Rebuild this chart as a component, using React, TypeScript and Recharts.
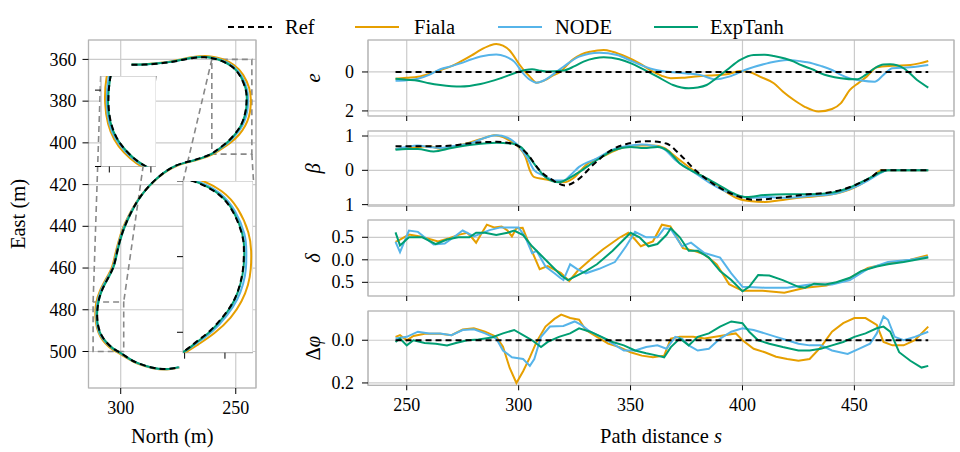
import {
  LineChart,
  Line,
  XAxis,
  YAxis,
  CartesianGrid,
  ReferenceArea,
  ReferenceLine,
} from 'recharts';

const SERIF = '"Liberation Serif", "DejaVu Serif", serif';
const FIALA = '#e69f00';
const NODE = '#56b4e9';
const EXPT = '#009e73';
const GRID = '#cbcbcb';
const SPINE = '#b4b4b4';

// trajectories, [north, east]
const REF_TRAJ: [number, number][] = [
  [295.3, 362.6], [290, 362.5], [284.5, 362.1], [279, 361.4], [274, 360.4], [268.5, 359.3], [263.5, 359.0],
  [260.4, 359.4], [256.5, 360.6], [251.5, 363.6], [248.0, 368.2], [245.8, 374.0], [245.3, 378.5], [245.5, 383.0],
  [246.2, 387.0], [247.6, 391.2], [250.0, 395.2], [253.5, 399.4], [257.2, 402.6], [260.5, 405.2], [265.0, 407.2],
  [270.0, 408.8], [275.8, 410.8], [281.5, 414.5], [287.5, 420.5], [292.5, 427.5], [296.0, 434.5], [298.6, 441.0],
  [300.5, 447.5], [301.8, 453.5], [303.2, 459.5], [305.6, 465.0], [308.2, 470.8], [309.8, 477.0], [310.2, 483.4],
  [309.6, 488.5], [308.2, 492.5], [306.0, 495.8], [303.2, 498.6], [300.2, 500.6], [296.5, 503.3], [292.5, 505.6],
  [286.0, 507.8], [280.0, 508.4], [274.5, 507.6],
];
const FIALA_TRAJ: [number, number][] = [
  [295.3, 362.6], [290, 362.4], [284.5, 361.9], [279, 361.1], [274, 360.0], [268.5, 358.8], [263.5, 358.4],
  [260.2, 358.7], [256.0, 359.8], [250.8, 362.7], [246.8, 367.4], [244.2, 373.6], [243.5, 378.5], [243.6, 383.2],
  [244.3, 387.5], [245.9, 391.8], [248.6, 396.1], [252.6, 400.2], [256.6, 403.2], [260.3, 405.6], [265.0, 407.5],
  [270.0, 409.1], [275.8, 411.1], [281.6, 414.8], [287.7, 420.8], [292.8, 427.8], [296.4, 434.6], [299.1, 441.0],
  [301.0, 447.5], [302.4, 453.5], [303.8, 459.5], [306.3, 465.0], [309.0, 470.8], [310.7, 477.0], [311.0, 483.4],
  [310.3, 488.8], [308.8, 492.9], [306.5, 496.3], [303.5, 499.1], [300.3, 501.1], [296.5, 503.7], [292.5, 505.9],
  [286.0, 508.0], [280.0, 508.6], [274.5, 507.7],
];
const NODE_TRAJ: [number, number][] = [
  [295.3, 362.6], [290, 362.5], [284.5, 362.0], [279, 361.3], [274, 360.3], [268.5, 359.1], [263.5, 358.8],
  [260.3, 359.2], [256.3, 360.3], [251.2, 363.3], [247.5, 368.0], [245.2, 373.9], [244.7, 378.5], [244.8, 383.1],
  [245.5, 387.2], [247.0, 391.4], [249.5, 395.5], [253.1, 399.7], [256.9, 402.8], [260.4, 405.3], [265.0, 407.3],
  [270.0, 408.9], [275.8, 410.9], [281.5, 414.6], [287.6, 420.6], [292.6, 427.6], [296.2, 434.5], [298.8, 441.0],
  [300.7, 447.5], [302.0, 453.5], [303.4, 459.5], [305.9, 465.0], [308.6, 470.8], [310.2, 477.0], [310.6, 483.4],
  [310.0, 488.6], [308.5, 492.7], [306.2, 496.0], [303.3, 498.8], [300.2, 500.8], [296.5, 503.4], [292.5, 505.7],
  [286.0, 507.9], [280.0, 508.5], [274.5, 507.6],
];
const EXPT_TRAJ: [number, number][] = [
  [295.3, 362.5], [290, 362.4], [284.5, 362.0], [279, 361.3], [274, 360.3], [268.5, 359.2], [263.5, 358.9],
  [260.4, 359.3], [256.5, 360.5], [251.5, 363.5], [247.9, 368.1], [245.7, 374.0], [245.2, 378.5], [245.4, 383.0],
  [246.1, 387.0], [247.5, 391.2], [249.9, 395.3], [253.4, 399.5], [257.1, 402.7], [260.5, 405.3], [265.0, 407.3],
  [270.0, 408.9], [275.8, 410.8], [281.5, 414.5], [287.5, 420.5], [292.4, 427.5], [295.9, 434.5], [298.5, 441.0],
  [300.4, 447.5], [301.7, 453.5], [303.1, 459.5], [305.5, 465.0], [308.2, 470.8], [309.8, 477.0], [310.3, 483.4],
  [309.7, 488.5], [308.3, 492.5], [306.0, 495.8], [303.2, 498.6], [300.2, 500.6], [296.5, 503.3], [292.5, 505.6],
  [286.0, 507.8], [280.0, 508.4], [274.8, 507.5],
];

// lateral error e, [s, value]
const REF_E: [number, number][] = [[245, 0], [483, 0]];
const FIALA_E: [number, number][] = [
  [245, -0.35], [250, -0.3], [255, -0.25], [260, -0.1], [265, 0.1], [270, 0.3], [274, 0.53], [279, 0.85],
  [283, 1.13], [287, 1.35], [290, 1.44], [293, 1.35], [296, 1.1], [300, 0.44], [303, 0.0], [305, -0.24],
  [308, -0.55], [312, -0.41], [315, -0.2], [318.5, 0.0], [324, 0.62], [328, 0.9], [332, 1.04], [338, 1.13],
  [342, 1.04], [348, 0.78], [354, 0.44], [360, 0.02], [364, -0.2], [368, -0.32], [373, -0.3], [378, -0.24],
  [385, -0.18], [393, -0.12], [399, 0.05], [403, 0], [408, -0.25], [414, -0.58], [418, -1.0], [423, -1.44],
  [428, -1.8], [434, -2.03], [440, -1.9], [444, -1.6], [448, -0.92], [452, -0.55], [455.5, -0.24], [460, 0.24],
  [467, 0.32], [475, 0.36], [479, 0.44], [483, 0.56],
];
const NODE_E: [number, number][] = [
  [245, -0.45], [250, -0.42], [255, -0.35], [260, -0.15], [265, 0.14], [270, 0.3], [274, 0.44], [279, 0.65],
  [283, 0.79], [290, 0.9], [294, 0.8], [298, 0.53], [302, -0.07], [305, -0.4], [308, -0.55], [311, -0.45],
  [314, -0.24], [320, 0.27], [327, 0.79], [336, 0.99], [344, 0.87], [351, 0.53], [360, 0.14], [369, -0.02],
  [375, -0.08], [381, -0.15], [388, -0.38], [394, -0.24], [402, 0.14], [411, 0.44], [420, 0.62], [426, 0.55],
  [429, 0.5], [435, 0.31], [440, 0.1], [444, -0.15], [448, -0.33], [453, -0.44], [459, -0.5], [463, -0.15],
  [467, 0.19], [475, 0.24], [483, 0.36],
];
const EXPT_E: [number, number][] = [
  [245, -0.35], [250, -0.4], [255, -0.45], [260, -0.58], [265, -0.67], [270, -0.73], [274, -0.75], [283, -0.62],
  [292, -0.32], [299, -0.03], [303, 0.1], [306, 0.14], [310, 0.06], [312.5, 0.02], [320, 0.07], [325, 0.3],
  [329, 0.53], [334, 0.7], [338, 0.75], [345, 0.65], [350, 0.45], [354, 0.24], [358, 0.0], [362, -0.24],
  [369, -0.67], [376, -0.84], [380, -0.8], [384, -0.67], [388, -0.35], [393, 0.1], [399, 0.62], [405, 0.87],
  [410, 0.88], [414, 0.82], [423, 0.53], [426, 0.36], [432, 0.1], [435, -0.07], [444, -0.32], [451, -0.38],
  [455, -0.15], [459, 0.19], [463, 0.38], [466, 0.39], [472, 0.19], [478, -0.41], [483, -0.8],
];

// sideslip beta
const REF_B: [number, number][] = [
  [245, 0.7], [258, 0.7], [270, 0.72], [277, 0.78], [290, 0.83], [298, 0.76], [303.7, 0.49], [309.4, 0.0],
  [315, -0.28], [320.7, -0.44], [326.3, -0.28], [333.9, 0.2], [341.4, 0.59], [349, 0.78], [358.4, 0.85],
  [366, 0.78], [371.6, 0.49], [379, 0.0], [386.6, -0.38], [396, -0.71], [405.5, -0.86], [415, -0.81],
  [428, -0.71], [441, -0.62], [450.7, -0.42], [458, -0.18], [462, 0], [483, 0],
];
const FIALA_B: [number, number][] = [
  [245, 0.62], [250, 0.65], [255, 0.68], [260, 0.7], [265, 0.63], [270, 0.68], [275, 0.75], [280, 0.85],
  [285, 0.95], [289, 1.02], [293, 0.97], [297, 0.82], [300, 0.68], [303, 0.4], [305, 0.0], [307, -0.2],
  [311, -0.25], [315, -0.3], [320, -0.35], [325, -0.2], [330, 0.15], [338, 0.42], [346, 0.65], [352, 0.72],
  [360, 0.72], [365, 0.65], [370, 0.4], [378, 0.0], [385, -0.3], [392, -0.6], [398, -0.82], [404, -0.9],
  [410, -0.92], [416, -0.88], [425, -0.8], [440, -0.7], [450, -0.5], [456, -0.28], [460, -0.08], [462, 0],
  [483, 0],
];
const NODE_B: [number, number][] = [
  [245, 0.62], [250, 0.68], [255, 0.72], [260, 0.68], [265, 0.65], [270, 0.7], [280, 0.82], [285, 0.95],
  [290, 1.02], [295, 0.95], [300, 0.7], [304, 0.35], [307, 0.0], [311, -0.15], [317, -0.3], [320, -0.3],
  [323, -0.15], [327, 0.1], [335, 0.35], [342, 0.6], [348, 0.7], [355, 0.75], [360, 0.72], [365, 0.62],
  [370, 0.3], [377, 0.0], [385, -0.35], [392, -0.6], [398, -0.75], [403, -0.8], [410, -0.78], [420, -0.8],
  [430, -0.75], [440, -0.7], [448, -0.55], [456, -0.3], [461, -0.1], [465, 0], [483, 0],
];
const EXPT_B: [number, number][] = [
  [245, 0.6], [250, 0.62], [255, 0.62], [262, 0.55], [270, 0.65], [280, 0.75], [290, 0.8], [297, 0.78],
  [301, 0.68], [304, 0.45], [308, 0.1], [312, -0.2], [318, -0.35], [322, -0.25], [327, -0.05], [335, 0.3],
  [343, 0.6], [350, 0.68], [356, 0.65], [362, 0.68], [367, 0.55], [372, 0.2], [377, 0.0], [383, -0.2],
  [390, -0.45], [397, -0.7], [402, -0.78], [410, -0.72], [420, -0.7], [430, -0.7], [440, -0.65], [448, -0.5],
  [456, -0.25], [462, -0.05], [465, 0], [483, 0],
];

// steering delta
const FIALA_D: [number, number][] = [
  [245, 0.4], [247, 0.45], [251, 0.56], [256.6, 0.51], [264, 0.41], [269, 0.48], [273.5, 0.56], [277, 0.6],
  [279, 0.5], [281, 0.38], [283, 0.55], [285.8, 0.78], [289, 0.72], [292.4, 0.74], [295, 0.65], [297, 0.52],
  [299, 0.7], [301.8, 0.71], [305.6, 0.23], [309.4, -0.21], [313, -0.14], [318.8, -0.29], [322.6, -0.47],
  [326.3, -0.25], [332, 0.0], [337.6, 0.23], [345, 0.49], [349, 0.6], [352, 0.45], [354.6, 0.3], [357, 0.35],
  [360, 0.41], [364, 0.78], [367.8, 0.74], [373.4, 0.26], [379, 0.19], [383, 0.12], [388.5, -0.1], [394, -0.54],
  [400, -0.69], [409, -0.69], [418.7, -0.73], [428, -0.62], [437.5, -0.57], [447, -0.43], [456, -0.18],
  [465.8, -0.07], [475, 0.0], [482.8, 0.1],
];
const NODE_D: [number, number][] = [
  [245, 0.4], [247, 0.17], [251, 0.65], [255, 0.62], [258, 0.5], [262, 0.34], [267, 0.36], [271, 0.5],
  [275, 0.65], [280, 0.52], [287, 0.66], [292, 0.72], [300, 0.72], [303, 0.5], [306, 0.15], [308, 0.2],
  [312, -0.15], [316, -0.3], [318.5, -0.4], [320, -0.45], [323, -0.1], [326, -0.2], [330, -0.3], [336, -0.2],
  [343, -0.05], [348, 0.3], [352, 0.62], [357, 0.5], [362, 0.5], [365, 0.7], [368, 0.68], [373, 0.3],
  [377, 0.38], [383, 0.15], [390, 0.05], [395, -0.3], [400, -0.6], [410, -0.62], [420, -0.62], [430, -0.55],
  [440, -0.55], [448, -0.45], [456, -0.2], [465, -0.05], [475, 0.0], [483, 0.07],
];
const EXPT_D: [number, number][] = [
  [245, 0.61], [247, 0.32], [251, 0.5], [257, 0.5], [263, 0.35], [268, 0.45], [273, 0.5], [278, 0.5],
  [281, 0.6], [285, 0.6], [290, 0.55], [295, 0.6], [298, 0.65], [302, 0.55], [306, 0.3], [310, 0.1],
  [314, -0.1], [319, -0.35], [322, -0.45], [326, -0.35], [330, -0.25], [335, -0.1], [342, 0.2], [348, 0.5],
  [350, 0.6], [354, 0.5], [358, 0.3], [362, 0.35], [366, 0.55], [368, 0.7], [372, 0.5], [376, 0.2], [380, 0.2],
  [385, 0.05], [390, -0.25], [395, -0.45], [400, -0.7], [403, -0.6], [407, -0.34], [412, -0.35], [418, -0.45],
  [425, -0.6], [428, -0.62], [432, -0.53], [437, -0.55], [442, -0.5], [448, -0.4], [453, -0.25], [460, -0.15],
  [465, -0.1], [472, -0.05], [483, 0.05],
];

// heading error
const REF_P: [number, number][] = [[245, 0], [483, 0]];
const FIALA_P: [number, number][] = [
  [245, 0.016], [247, 0.024], [250, 0], [253, 0.02], [258, 0.03], [265, 0.03], [270, 0.024], [275, 0.05],
  [280, 0.056], [285, 0.04], [290, 0.016], [293, -0.03], [296, -0.13], [299, -0.2], [302, -0.145], [305, -0.08],
  [308, -0.008], [312, 0.064], [316, 0.1], [319, 0.12], [323, 0.104], [327, 0.096], [330, 0.048], [335, 0.016],
  [340, -0.016], [345, -0.032], [350, -0.056], [355, -0.072], [360, -0.08], [365, -0.072], [368, 0.008],
  [372, 0.016], [378, 0.016], [383, 0.008], [390, 0.02], [397, 0.032], [400, 0.0], [405, -0.04], [410, -0.056],
  [415, -0.077], [420, -0.088], [425, -0.096], [430, -0.088], [435, -0.032], [440, 0.04], [445, 0.08],
  [450, 0.104], [455, 0.104], [460, 0.072], [463, -0.008], [467, -0.024], [472, -0.024], [477, 0.0],
  [480, 0.032], [483, 0.064],
];
const NODE_P: [number, number][] = [
  [245, 0.008], [250, 0.016], [255, 0.04], [260, 0.032], [265, 0.032], [270, 0.024], [275, 0.048], [280, 0.051],
  [285, 0.032], [290, 0.008], [293, -0.048], [297, -0.08], [302, -0.088], [305, -0.12], [307, -0.088],
  [310, 0.016], [314, 0.064], [320, 0.067], [325, 0.088], [328, 0.072], [332, 0.04], [337, 0.016], [342, -0.016],
  [347, -0.048], [352, -0.048], [357, -0.032], [362, -0.024], [366, -0.04], [370, 0.016], [373, 0.008],
  [376, -0.024], [380, -0.048], [385, -0.04], [390, 0.008], [395, 0.04], [400, 0.056], [405, 0.048],
  [410, 0.032], [415, 0.016], [420, 0.0], [425, -0.016], [430, -0.024], [435, -0.024], [440, -0.048],
  [447, -0.064], [452, -0.04], [457, -0.016], [460, 0.032], [463, 0.112], [465, 0.096], [468, 0.016],
  [472, 0.0], [477, 0.016], [483, 0.04],
];
const EXPT_P: [number, number][] = [
  [245, -0.008], [247, 0.008], [250, -0.024], [253, 0.0], [258, -0.013], [263, -0.016], [268, -0.024],
  [272, -0.013], [277, 0.0], [282, 0.003], [288, 0.013], [293, 0.032], [298, 0.048], [302, 0.024], [306, 0.0],
  [310, -0.032], [313, -0.008], [318, 0.016], [323, 0.032], [327, 0.056], [332, 0.04], [337, 0.016],
  [342, -0.008], [347, -0.024], [352, -0.048], [357, -0.061], [362, -0.072], [365, -0.08], [368, -0.032],
  [372, 0.008], [376, -0.024], [380, 0.016], [385, 0.032], [390, 0.064], [395, 0.088], [400, 0.08], [403, 0.04],
  [407, 0.0], [412, -0.016], [418, -0.032], [425, -0.048], [430, -0.048], [435, -0.04], [440, -0.024],
  [445, -0.008], [450, 0.016], [455, 0.032], [460, 0.056], [463, 0.064], [466, 0.04], [470, -0.056],
  [475, -0.096], [480, -0.128], [483, -0.12],
];

const NORTH_TICKS = [300, 250];
const EAST_TICKS = [360, 380, 400, 420, 440, 460, 480, 500];
const S_TICKS = [250, 300, 350, 400, 450];

// left trajectory plot box (page px) and its data window
const MAIN = { left: 88.5, top: 40, right: 256, bottom: 388 };
const NORTH_DOM: [number, number] = [241.2, 314];
const EAST_DOM: [number, number] = [350.7, 517.5];
const S_DOM: [number, number] = [232.7, 494.5];

const mx = (n: number) =>
  MAIN.left + ((NORTH_DOM[1] - n) / (NORTH_DOM[1] - NORTH_DOM[0])) * (MAIN.right - MAIN.left);
const my = (e: number) =>
  MAIN.top + ((e - EAST_DOM[0]) / (EAST_DOM[1] - EAST_DOM[0])) * (MAIN.bottom - MAIN.top);

// insets: where they sit (main data units) and what they zoom into
const INSETS = [
  { box: { n: [308.7, 284.66], e: [367.95, 411.33] }, view: { n: [312.0, 298.7], e: [476.3, 500] }, xTicks: [310, 300], yTicks: [480, 500] },
  { box: { n: [272.8, 242.3], e: [418.1, 500.4] }, view: { n: [260.4, 243.0], e: [360, 405.4] }, xTicks: [260, 250], yTicks: [360, 380, 400] },
];

const pts = (arr: [number, number][]) => arr.map(([x, y]) => ({ x, y }));
const spts = (arr: [number, number][]) => arr.map(([s, v]) => ({ s, v }));

function AxisTitle({ tx, ty, rotate, parts }: any) {
  return (
    <text
      x={tx}
      y={ty}
      textAnchor="middle"
      dominantBaseline="central"
      transform={rotate ? `rotate(-90 ${tx} ${ty})` : undefined}
      fontFamily={SERIF}
      fontSize={20.5}
      fill="#000"
    >
      {parts.map((p: any, i: number) => (
        <tspan key={i} fontStyle={p.it ? 'italic' : 'normal'}>
          {p.t}
        </tspan>
      ))}
    </text>
  );
}

// serif tick label; Recharts passes x, y, payload, textAnchor
function makeTick(fmt: (v: number) => string, bottom: boolean) {
  return (props: any) => {
    const { x, y, payload, textAnchor } = props;
    return (
      <text
        x={x}
        y={y}
        dy={bottom ? '0.71em' : '0.34em'}
        textAnchor={textAnchor}
        fontFamily={SERIF}
        fontSize={18}
        fill="#000"
      >
        {fmt(payload.value)}
      </text>
    );
  };
}

function trajLines(prefix: string) {
  const lw = 2;
  return [
    <Line key={prefix + 'f'} data={pts(FIALA_TRAJ)} dataKey="y" type="natural" stroke={FIALA} strokeWidth={lw} dot={false} activeDot={false} isAnimationActive={false} />,
    <Line key={prefix + 'n'} data={pts(NODE_TRAJ)} dataKey="y" type="natural" stroke={NODE} strokeWidth={lw} dot={false} activeDot={false} isAnimationActive={false} />,
    <Line key={prefix + 'x'} data={pts(EXPT_TRAJ)} dataKey="y" type="natural" stroke={EXPT} strokeWidth={lw} dot={false} activeDot={false} isAnimationActive={false} />,
    <Line key={prefix + 'r'} data={pts(REF_TRAJ)} dataKey="y" type="natural" stroke="#000" strokeWidth={lw} strokeDasharray="6 4" dot={false} activeDot={false} isAnimationActive={false} />,
  ];
}

const plain = (v: number) => String(v);

function TrajectoryPlot() {
  const W = 270;
  const H = 452;
  const yw = MAIN.left;
  const xh = H - MAIN.bottom;
  const [i1, i2] = INSETS;
  return (
    <div style={{ position: 'absolute', left: 0, top: 0 }}>
      <LineChart width={W} height={H} margin={{ top: MAIN.top, right: W - MAIN.right, bottom: 0, left: 0 }}>
        <CartesianGrid stroke={GRID} strokeWidth={1.2} />
        <XAxis
          type="number"
          dataKey="x"
          domain={NORTH_DOM}
          reversed
          allowDataOverflow
          ticks={NORTH_TICKS}
          interval={0}
          height={xh}
          tickSize={6}
          tickMargin={7}
          tick={makeTick(plain, true)}
          axisLine={false}
          tickLine={{ stroke: '#000' }}
          label={<AxisTitle tx={172.3} ty={436} parts={[{ t: 'North (m)' }]} />}
        />
        <YAxis
          type="number"
          dataKey="y"
          domain={EAST_DOM}
          reversed
          allowDataOverflow
          ticks={EAST_TICKS}
          interval={0}
          width={yw}
          tickSize={6}
          tickMargin={6}
          tick={makeTick(plain, false)}
          axisLine={false}
          tickLine={{ stroke: '#000' }}
          label={<AxisTitle tx={18} ty={214} rotate parts={[{ t: 'East (m)' }]} />}
        />
        <ReferenceArea x1={NORTH_DOM[0]} x2={NORTH_DOM[1]} y1={EAST_DOM[0]} y2={EAST_DOM[1]} fill="none" stroke={SPINE} strokeWidth={1.2} ifOverflow="visible" />
        {INSETS.map((ins, i) => (
          <ReferenceArea key={'z' + i} x1={ins.view.n[0]} x2={ins.view.n[1]} y1={ins.view.e[0]} y2={ins.view.e[1]} fill="none" stroke="#888" strokeWidth={1.6} strokeDasharray="6 4" ifOverflow="visible" />
        ))}
        <ReferenceLine segment={[{ x: i1.box.n[0], y: i1.box.e[0] }, { x: i1.view.n[0], y: i1.view.e[0] }]} stroke="#888" strokeWidth={1.6} strokeDasharray="6 4" ifOverflow="visible" />
        <ReferenceLine segment={[{ x: i1.box.n[1], y: i1.box.e[0] }, { x: i1.view.n[1], y: i1.view.e[0] }]} stroke="#888" strokeWidth={1.6} strokeDasharray="6 4" ifOverflow="visible" />
        <ReferenceLine segment={[{ x: i2.view.n[0], y: i2.view.e[0] }, { x: i2.box.n[0], y: i2.box.e[0] }]} stroke="#888" strokeWidth={1.6} strokeDasharray="6 4" ifOverflow="visible" />
        <ReferenceLine segment={[{ x: i2.view.n[1], y: i2.view.e[1] }, { x: i2.box.n[1], y: i2.box.e[0] }]} stroke="#888" strokeWidth={1.6} strokeDasharray="6 4" ifOverflow="visible" />
        {trajLines('m')}
      </LineChart>
    </div>
  );
}

function Inset({ ins, idx }: any) {
  const x0 = mx(ins.box.n[0]);
  const x1 = mx(ins.box.n[1]);
  const y0 = my(ins.box.e[0]);
  const y1 = my(ins.box.e[1]);
  const T = 8;
  return (
    <div style={{ position: 'absolute', left: x0 - T, top: y0 }}>
      <LineChart width={x1 - x0 + T} height={y1 - y0 + T} margin={{ top: 0, right: 0, bottom: 0, left: 0 }}>
        <CartesianGrid fill="#fff" horizontal={false} vertical={false} />
        <XAxis
          type="number"
          dataKey="x"
          domain={[ins.view.n[1], ins.view.n[0]]}
          reversed
          allowDataOverflow
          ticks={ins.xTicks}
          interval={0}
          height={T}
          tickSize={6}
          tickFormatter={() => ''}
          axisLine={false}
          tickLine={{ stroke: '#000' }}
        />
        <YAxis
          type="number"
          dataKey="y"
          domain={ins.view.e}
          reversed
          allowDataOverflow
          ticks={ins.yTicks}
          interval={0}
          width={T}
          tickSize={6}
          tickFormatter={() => ''}
          axisLine={false}
          tickLine={{ stroke: '#000' }}
        />
        <ReferenceArea x1={ins.view.n[1]} x2={ins.view.n[0]} y1={ins.view.e[0]} y2={ins.view.e[1]} fill="none" stroke={SPINE} strokeWidth={1.2} ifOverflow="visible" />
        {trajLines('i' + idx)}
      </LineChart>
    </div>
  );
}

const absFmt = (d: number) => (v: number) => Math.abs(v).toFixed(d);

const PANELS = [
  { top: 40, bottom: 116, domain: [-2.26, 1.64], ticks: [-2, 0], fmt: absFmt(0), curve: 'monotone', ref: REF_E, fiala: FIALA_E, node: NODE_E, expt: EXPT_E, title: [{ t: 'e', it: true }] },
  { top: 131, bottom: 206, domain: [-1.04, 1.146], ticks: [-1, 0, 1], fmt: absFmt(0), curve: 'monotone', ref: REF_B, fiala: FIALA_B, node: NODE_B, expt: EXPT_B, title: [{ t: 'β', it: true }] },
  { top: 220, bottom: 296, domain: [-0.804, 0.884], ticks: [-0.5, 0, 0.5], fmt: absFmt(1), curve: 'linear', ref: null, fiala: FIALA_D, node: NODE_D, expt: EXPT_D, title: [{ t: 'δ', it: true }] },
  { top: 310.7, bottom: 385, domain: [-0.211, 0.137], ticks: [-0.2, 0], fmt: absFmt(1), curve: 'linear', ref: REF_P, fiala: FIALA_P, node: NODE_P, expt: EXPT_P, title: [{ t: 'Δ' }, { t: 'φ', it: true }] },
];

function Panel({ p, last }: any) {
  const left = 270;
  const yw = 98;
  const pad = 12;
  const xh = last ? 452 - p.bottom : 8;
  const top = p.top - pad;
  const h = p.bottom - p.top + pad + xh;
  const mid = (p.top + p.bottom) / 2 - top;
  const series = [
    { d: p.fiala, c: FIALA },
    { d: p.node, c: NODE },
    { d: p.expt, c: EXPT },
  ];
  return (
    <div style={{ position: 'absolute', left, top }}>
      <LineChart width={960 - left} height={h} margin={{ top: pad, right: 6, bottom: 0, left: 0 }}>
        <CartesianGrid stroke={GRID} strokeWidth={1.2} />
        <XAxis
          type="number"
          dataKey="s"
          domain={S_DOM}
          allowDataOverflow
          ticks={S_TICKS}
          interval={0}
          height={xh}
          tickSize={5}
          tickMargin={8}
          tick={makeTick(last ? plain : () => '', true)}
          axisLine={false}
          tickLine={{ stroke: '#000' }}
          label={last ? <AxisTitle tx={661 - left} ty={436 - top} parts={[{ t: 'Path distance ' }, { t: 's', it: true }]} /> : undefined}
        />
        <YAxis
          type="number"
          dataKey="v"
          domain={p.domain}
          allowDataOverflow
          ticks={p.ticks}
          interval={0}
          width={yw}
          tickSize={6}
          tickMargin={8}
          tick={makeTick(p.fmt, false)}
          axisLine={false}
          tickLine={{ stroke: '#000' }}
          label={<AxisTitle tx={43} ty={mid} rotate parts={p.title} />}
        />
        <ReferenceArea x1={S_DOM[0]} x2={S_DOM[1]} y1={p.domain[0]} y2={p.domain[1]} fill="none" stroke={SPINE} strokeWidth={1.2} ifOverflow="visible" />
        {series.map((s, i) => (
          <Line key={i} data={spts(s.d)} dataKey="v" type={p.curve} stroke={s.c} strokeWidth={2} dot={false} activeDot={false} isAnimationActive={false} />
        ))}
        {p.ref && (
          <Line data={spts(p.ref)} dataKey="v" type={p.curve} stroke="#000" strokeWidth={2} strokeDasharray="6 4" dot={false} activeDot={false} isAnimationActive={false} />
        )}
      </LineChart>
    </div>
  );
}

const LEGEND = [
  { label: 'Ref', color: '#000', dash: '6 4', x: 228, tx: 285 },
  { label: 'Fiala', color: FIALA, dash: undefined, x: 355, tx: 414 },
  { label: 'NODE', color: NODE, dash: undefined, x: 498, tx: 555 },
  { label: 'ExpTanh', color: EXPT, dash: undefined, x: 654, tx: 710 },
];

function LegendBar() {
  return (
    <svg width={960} height={44} style={{ position: 'absolute', left: 0, top: 0 }}>
      {LEGEND.map((it) => (
        <g key={it.label}>
          <line x1={it.x} x2={it.x + 44} y1={27} y2={27} stroke={it.color} strokeWidth={2} strokeDasharray={it.dash} />
          <text x={it.tx} y={27} dominantBaseline="central" fontFamily={SERIF} fontSize={20.5} fill="#000">
            {it.label}
          </text>
        </g>
      ))}
    </svg>
  );
}

export default function App() {
  return (
    <div
      style={{
        position: 'absolute',
        left: 0,
        top: 0,
        width: 960,
        height: 452,
        background: '#fff',
        overflow: 'hidden',
        fontFamily: SERIF,
      }}
    >
      <TrajectoryPlot />
      {INSETS.map((ins, i) => (
        <Inset key={i} ins={ins} idx={i} />
      ))}
      {PANELS.map((p, i) => (
        <Panel key={i} p={p} last={i === PANELS.length - 1} />
      ))}
      <LegendBar />
    </div>
  );
}
